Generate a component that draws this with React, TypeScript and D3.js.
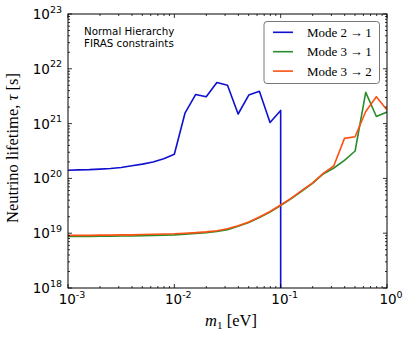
import React from "react";
import * as d3 from "d3";

const W = 407, H = 339;
const M = { left: 68, right: 387, top: 14, bottom: 288 };

// m1 grid (eV), 10 points per decade
const m1 = d3.range(31).map((i) => Math.pow(10, -3 + i / 10));

// log10(tau) values
const blueLog = [20.15, 20.155, 20.16, 20.17, 20.18, 20.2, 20.23, 20.26, 20.3, 20.36, 20.44,
  21.19, 21.53, 21.49, 21.75, 21.7, 21.175, 21.52, 21.59, 21.02, 21.24];
const greenLog = [18.94, 18.94, 18.94, 18.945, 18.945, 18.95, 18.95, 18.955, 18.96, 18.965, 18.97,
  18.98, 18.995, 19.01, 19.03, 19.065, 19.125, 19.195, 19.285, 19.385, 19.505,
  19.63, 19.77, 19.91, 20.08, 20.19, 20.33, 20.5, 21.57, 21.13, 21.21];
const redLog = [18.96, 18.96, 18.96, 18.965, 18.965, 18.97, 18.97, 18.975, 18.98, 18.985, 18.99,
  19.0, 19.01, 19.025, 19.045, 19.08, 19.135, 19.205, 19.295, 19.395, 19.515,
  19.64, 19.78, 19.92, 20.09, 20.23, 20.73, 20.76, 21.22, 21.49, 21.25];

const legendLabels = ["Mode 2\u2009\u2192\u20091", "Mode 3\u2009\u2192\u20091", "Mode 3\u2009\u2192\u20092"];
const colors = ["#1010d0", "#2a8c2a", "#ff5014"];
const xTickExp = [-3, -2, -1, 0];
const yTickExp = [18, 19, 20, 21, 22, 23];

export default function App() {
  const x = d3.scaleLog().domain([1e-3, 1]).range([M.left, M.right]);
  const y = d3.scaleLog().domain([1e18, 1e23]).range([M.bottom, M.top]);

  const blue = blueLog.map((v, i) => [m1[i], Math.pow(10, v)] as [number, number]);
  blue.push([0.1, 1e15]);
  const green = greenLog.map((v, i) => [m1[i], Math.pow(10, v)] as [number, number]);
  const red = redLog.map((v, i) => [m1[i], Math.pow(10, v)] as [number, number]);
  const line = d3.line<[number, number]>().x((d) => x(d[0])).y((d) => y(d[1]));
  const series = [blue, green, red];

  const xMinor: number[] = [];
  for (let e = -3; e < 0; e++) for (let k = 2; k <= 9; k++) xMinor.push(k * Math.pow(10, e));
  const yMinor: number[] = [];
  for (let e = 18; e < 23; e++) for (let k = 2; k <= 9; k++) yMinor.push(k * Math.pow(10, e));

  const tickFont = "DejaVu Sans";
  const serif = "Liberation Serif";

  return (
    <svg width={W} height={H} style={{ position: "absolute", left: 0, top: 0 }}>
      <rect width={W} height={H} fill="white" />
      <defs>
        <clipPath id="clip">
          <rect x={M.left} y={M.top} width={M.right - M.left} height={M.bottom - M.top} />
        </clipPath>
      </defs>
      <g clipPath="url(#clip)">
        {series.map((s, i) => (
          <path key={i} d={line(s) || ""} fill="none" stroke={colors[i]} strokeWidth={1.6} strokeLinejoin="round" />
        ))}
      </g>
      {/* ticks */}
      <g stroke="black" strokeWidth={0.8}>
        {xTickExp.map((e) => {
          const px = x(Math.pow(10, e));
          return (
            <g key={"xt" + e}>
              <line x1={px} x2={px} y1={M.bottom} y2={M.bottom - 4} />
              <line x1={px} x2={px} y1={M.top} y2={M.top + 4} />
            </g>
          );
        })}
        {xMinor.map((v, i) => {
          const px = x(v);
          return (
            <g key={"xm" + i}>
              <line x1={px} x2={px} y1={M.bottom} y2={M.bottom - 2} />
              <line x1={px} x2={px} y1={M.top} y2={M.top + 2} />
            </g>
          );
        })}
        {yTickExp.map((e) => {
          const py = y(Math.pow(10, e));
          return (
            <g key={"yt" + e}>
              <line x1={M.left} x2={M.left + 4} y1={py} y2={py} />
              <line x1={M.right} x2={M.right - 4} y1={py} y2={py} />
            </g>
          );
        })}
        {yMinor.map((v, i) => {
          const py = y(v);
          return (
            <g key={"ym" + i}>
              <line x1={M.left} x2={M.left + 2} y1={py} y2={py} />
              <line x1={M.right} x2={M.right - 2} y1={py} y2={py} />
            </g>
          );
        })}
      </g>
      <rect x={M.left} y={M.top} width={M.right - M.left} height={M.bottom - M.top} fill="none" stroke="black" strokeWidth={1} />
      {/* tick labels */}
      {yTickExp.map((e) => (
        <text key={"yl" + e} x={62} y={y(Math.pow(10, e)) + 5} textAnchor="end" fontFamily={tickFont} fontSize={13.5}>
          10<tspan dy={-6.5} fontSize={9.5}>{e}</tspan>
        </text>
      ))}
      {xTickExp.map((e) => (
        <text key={"xl" + e} x={x(Math.pow(10, e)) + 4} y={304} textAnchor="middle" fontFamily={tickFont} fontSize={13.5}>
          10<tspan dy={-6.5} fontSize={9.5}>{e === 0 ? "0" : "-" + Math.abs(e)}</tspan>
        </text>
      ))}
      {/* axis labels */}
      <text x={231} y={326} textAnchor="middle" fontFamily={serif} fontSize={16.5}>
        <tspan fontStyle="italic">m</tspan>
        <tspan fontSize={11} dy={3}>1</tspan>
        <tspan dy={-3}> [eV]</tspan>
      </text>
      <text transform="translate(18,148) rotate(-90)" textAnchor="middle" fontFamily={serif} fontSize={16.5}>
        Neutrino lifetime,  <tspan fontStyle="italic">τ</tspan> [s]
      </text>
      {/* annotation */}
      <text x={84} y={35} fontFamily={tickFont} fontSize={10.3}>Normal Hierarchy</text>
      <text x={84} y={47} fontFamily={tickFont} fontSize={10.3}>FIRAS constraints</text>
      {/* legend */}
      <rect x={264} y={21.5} width={115.5} height={62} rx={3} fill="white" stroke="#555" strokeWidth={0.8} />
      {legendLabels.map((l, i) => {
        const ly = 32.3 + i * 19.4;
        return (
          <g key={"lg" + i}>
            <line x1={273} x2={293} y1={ly} y2={ly} stroke={colors[i]} strokeWidth={1.6} />
            <text x={307} y={ly + 4.5} fontFamily={serif} fontSize={13}>{l}</text>
          </g>
        );
      })}
    </svg>
  );
}
